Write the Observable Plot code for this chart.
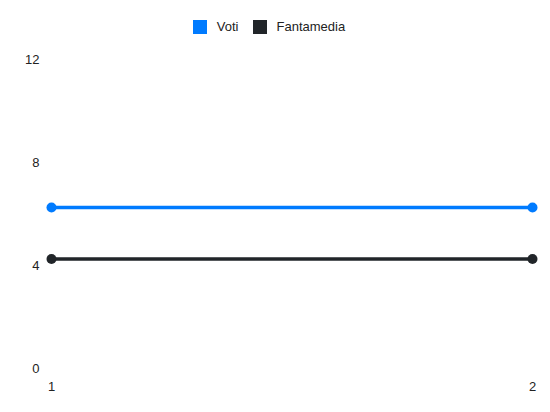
<!DOCTYPE html>
<html>
<head>
<meta charset="utf-8">
<script src="https://cdn.jsdelivr.net/npm/d3@7"></script>
<script src="https://cdn.jsdelivr.net/npm/@observablehq/plot@0.6"></script>
<style>
  body { margin: 0; background: #fff; font-family: "Liberation Sans", Arial, sans-serif; }
  #legend { height: 40px; display: flex; justify-content: center; align-items: flex-start; padding-right: 12px; box-sizing: border-box; font-size: 13px; color: #222; }
  #legend .item { display: flex; align-items: center; margin: 0 7px; margin-top: 19px; }
  #legend .sw { width: 14px; height: 14px; margin-right: 10px; }
  #chart svg { display: block; }
</style>
</head>
<body>
<div id="legend"></div>
<div id="chart"></div>
<script>
const giornate = [1, 2];
const voti = [6.25, 6.25];
const fantamedia = [4.25, 4.25];
const seriesNames = ["Voti", "Fantamedia"];
const seriesColors = ["#007bff", "#212529"];
const yTicks = [0, 4, 8, 12];

const data = [];
giornate.forEach((g, i) => {
  data.push({giornata: g, value: voti[i], serie: seriesNames[0]});
  data.push({giornata: g, value: fantamedia[i], serie: seriesNames[1]});
});

const legend = document.getElementById("legend");
seriesNames.forEach((n, i) => {
  const it = document.createElement("div");
  it.className = "item";
  it.innerHTML = `<div class="sw" style="background:${seriesColors[i]}"></div><span>${n}</span>`;
  legend.appendChild(it);
});

const chart = Plot.plot({
  width: 550,
  height: 372,
  marginLeft: 51,
  marginRight: 18,
  marginTop: 19,
  marginBottom: 44,
  style: {fontFamily: "'Liberation Sans', Arial, sans-serif", fontSize: "13px", color: "#222"},
  x: {domain: [1, 2], ticks: giornate, tickFormat: d => String(d), tickSize: 0, tickPadding: 13, label: null},
  y: {domain: [0, 12], ticks: yTicks, tickSize: 0, tickPadding: 12, label: null},
  color: {domain: seriesNames, range: seriesColors},
  marks: [
    Plot.line(data, {x: "giornata", y: "value", z: "serie", stroke: "serie", strokeWidth: 3.5}),
    Plot.dot(data, {x: "giornata", y: "value", fill: "serie", r: 5})
  ]
});
document.getElementById("chart").appendChild(chart);
</script>
</body>
</html>
